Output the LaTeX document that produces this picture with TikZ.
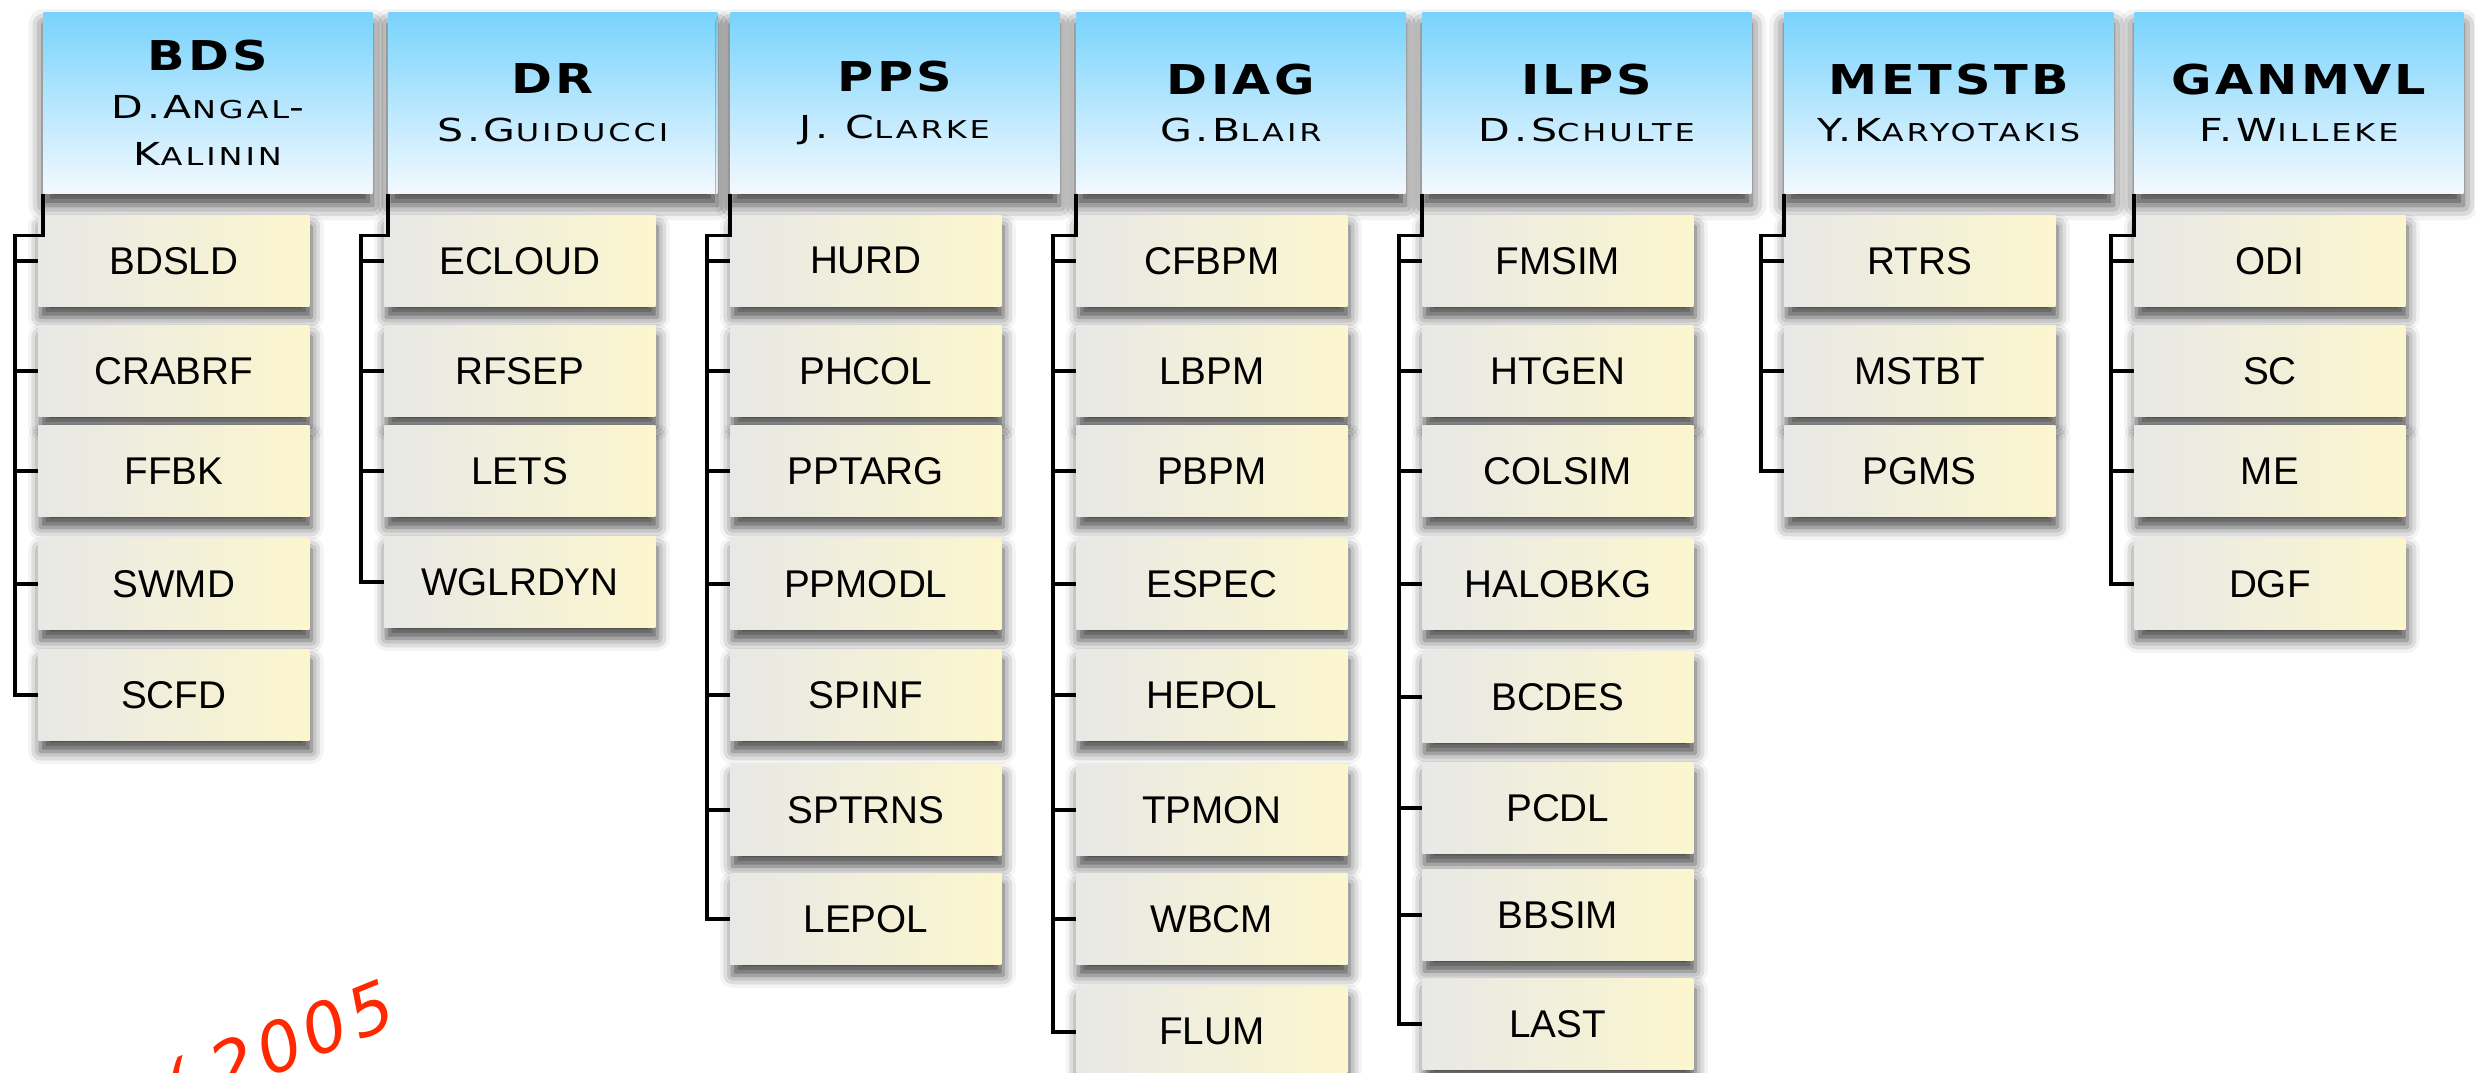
\documentclass[tikz,border=0pt]{standalone}
\usepackage{fontspec}
\usetikzlibrary{shadows.blur,calc}
\newfontfamily\leaffont{Liberation Sans}
\newfontfamily\hdfont[FakeStretch=1.2,LetterSpace=8]{DejaVu Sans}
\newfontfamily\nmfont[FakeStretch=1.3,LetterSpace=12]{DejaVu Sans}
\newfontfamily\handfont[LetterSpace=8]{DejaVu Sans}
\definecolor{hdtop}{RGB}{120,211,253}
\definecolor{hdbot}{RGB}{243,249,254}
\definecolor{lfl}{RGB}{232,232,230}
\definecolor{lfr}{RGB}{252,246,206}
\definecolor{handred}{RGB}{255,40,0}
\newcommand\smc[1]{{\fontsize{14}{27}\selectfont #1}}
\newcommand\ttl[1]{{\hdfont\fontsize{23.4}{28}\selectfont\bfseries #1}}
\tikzset{
  hdrbox/.style={anchor=north west, minimum width=6.58cm, minimum height=3.62cm,
    inner sep=0pt, top color=hdtop, bottom color=hdbot, align=center,
    font=\nmfont\fontsize{18}{27}\selectfont,
    blur shadow={shadow xshift=0cm, shadow yshift=-0.24cm, shadow blur radius=0.3cm, shadow opacity=75}},
  leafbox/.style={anchor=north west, minimum width=5.42cm, minimum height=1.82cm,
    inner sep=0pt, left color=lfl, right color=lfr,
    font=\leaffont\fontsize{22}{26}\selectfont,
    blur shadow={shadow xshift=0.04cm, shadow yshift=-0.22cm, shadow blur radius=0.25cm, shadow opacity=72}},
  conn/.style={line width=0.07cm, black, line join=miter}
}
\begin{document}
\begin{tikzpicture}[x=0.02cm,y=-0.02cm]
\useasboundingbox (0,0) rectangle (2475,1072);
% headers
\node[hdrbox] (bds) at (43,12) {\ttl{BDS}\\D.A\smc{NGAL}-\\K\smc{ALININ}};
\node[hdrbox] (dr) at (388,12) {\ttl{DR}\\S.G\smc{UIDUCCI}};
\node[hdrbox] (pps) at (730,12) {\ttl{PPS}\\J. C\smc{LARKE}};
\node[hdrbox] (diag) at (1076,12) {\ttl{DIAG}\\G.B\smc{LAIR}};
\node[hdrbox] (ilps) at (1422,12) {\ttl{ILPS}\\D.S\smc{CHULTE}};
\node[hdrbox] (metstb) at (1784,12) {\ttl{METSTB}\\Y.K\smc{ARYOTAKIS}};
\node[hdrbox] (ganmvl) at (2134,12) {\ttl{GANMVL}\\F.W\smc{ILLEKE}};
% BDS
\node[leafbox] (bdsld) at (38,215) {BDSLD};
\node[leafbox] (crabrf) at (38,325) {CRABRF};
\node[leafbox] (ffbk) at (38,425) {FFBK};
\node[leafbox] (swmd) at (38,538) {SWMD};
\node[leafbox] (scfd) at (38,649) {SCFD};
% DR
\node[leafbox] (ecloud) at (384,215) {ECLOUD};
\node[leafbox] (rfsep) at (384,325) {RFSEP};
\node[leafbox] (lets) at (384,425) {LETS};
\node[leafbox] (wglrdyn) at (384,536) {WGLRDYN};
% PPS
\node[leafbox] (hurd) at (730,215) {HURD};
\node[leafbox] (phcol) at (730,325) {PHCOL};
\node[leafbox] (pptarg) at (730,425) {PPTARG};
\node[leafbox] (ppmodl) at (730,538) {PPMODL};
\node[leafbox] (spinf) at (730,649) {SPINF};
\node[leafbox] (sptrns) at (730,764) {SPTRNS};
\node[leafbox] (lepol) at (730,873) {LEPOL};
% DIAG
\node[leafbox] (cfbpm) at (1076,215) {CFBPM};
\node[leafbox] (lbpm) at (1076,325) {LBPM};
\node[leafbox] (pbpm) at (1076,425) {PBPM};
\node[leafbox] (espec) at (1076,538) {ESPEC};
\node[leafbox] (hepol) at (1076,649) {HEPOL};
\node[leafbox] (tpmon) at (1076,764) {TPMON};
\node[leafbox] (wbcm) at (1076,873) {WBCM};
\node[leafbox] (flum) at (1076,986) {FLUM};
% ILPS
\node[leafbox] (fmsim) at (1422,215) {FMSIM};
\node[leafbox] (htgen) at (1422,325) {HTGEN};
\node[leafbox] (colsim) at (1422,425) {COLSIM};
\node[leafbox] (halobkg) at (1422,538) {HALOBKG};
\node[leafbox] (bcdes) at (1422,651) {BCDES};
\node[leafbox] (pcdl) at (1422,762) {PCDL};
\node[leafbox] (bbsim) at (1422,869) {BBSIM};
\node[leafbox] (last) at (1422,978) {LAST};
% METSTB
\node[leafbox] (rtrs) at (1784,215) {RTRS};
\node[leafbox] (mstbt) at (1784,325) {MSTBT};
\node[leafbox] (pgms) at (1784,425) {PGMS};
% GANMVL
\node[leafbox] (odi) at (2134,215) {ODI};
\node[leafbox] (sc) at (2134,325) {SC};
\node[leafbox] (me) at (2134,425) {ME};
\node[leafbox] (dgf) at (2134,538) {DGF};
% connectors
\foreach \h/\f/\l/\others in {bds/bdsld/scfd/{crabrf,ffbk,swmd},
  dr/ecloud/wglrdyn/{rfsep,lets},
  pps/hurd/lepol/{phcol,pptarg,ppmodl,spinf,sptrns},
  diag/cfbpm/flum/{lbpm,pbpm,espec,hepol,tpmon,wbcm},
  ilps/fmsim/last/{htgen,colsim,halobkg,bcdes,pcdl,bbsim},
  metstb/rtrs/pgms/{mstbt},
  ganmvl/odi/dgf/{sc,me}}{
  \draw[conn] (\h.south west) -- ++(0,42) -| ([xshift=-0.46cm]\f.west) |- (\l.west);
  \draw[conn] (\f.west) -- ++(-23,0);
  \foreach \c in \others {\draw[conn] (\c.west) -- ++(-23,0);}
}
% handwritten note
\begin{scope}
\clip (0,0) rectangle (2475,1072);
\node[rotate=22, anchor=base east, text=handred, inner sep=0pt,
  font=\handfont\itshape\fontsize{39}{40}\selectfont] (note) at (400,1024) {(\hspace{0.35em}2005};
\end{scope}
\end{tikzpicture}
\end{document}
